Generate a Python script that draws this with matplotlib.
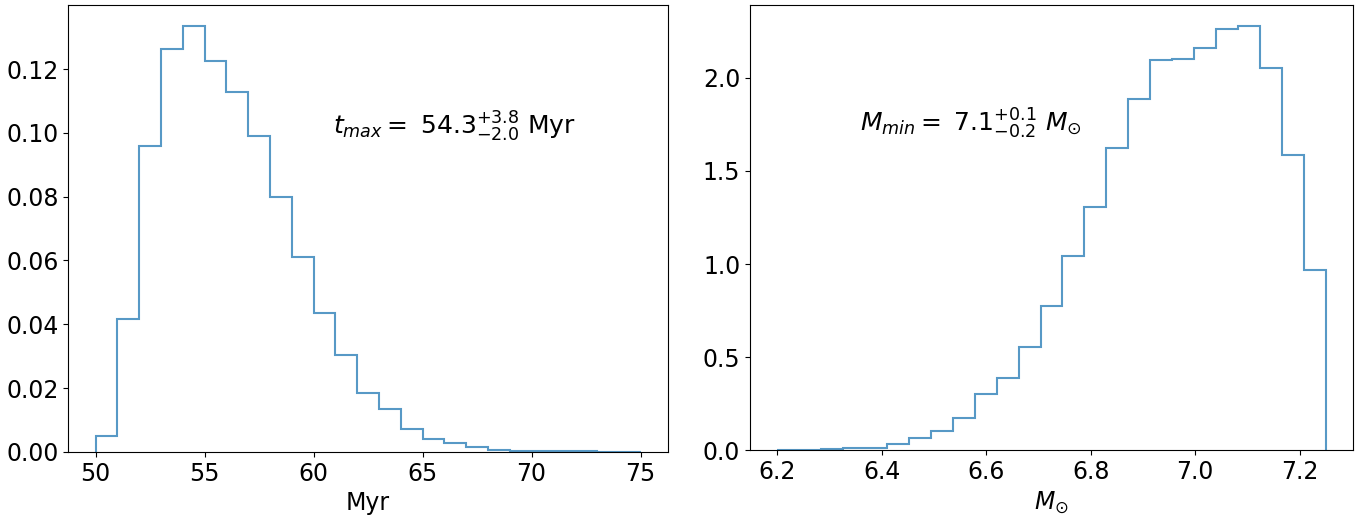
import numpy as np
import matplotlib
matplotlib.use("Agg")
import matplotlib.pyplot as plt

# Left panel: t_max histogram (density), bins of 1 Myr from 50 to 75
t_edges = np.arange(50, 76, 1)
t_vals = [0.0051, 0.0418, 0.0960, 0.1262, 0.1335, 0.1226, 0.1127, 0.0991,
          0.0800, 0.0612, 0.0434, 0.0303, 0.0186, 0.0134, 0.0071, 0.0039,
          0.0027, 0.0016, 0.0006, 0.0004, 0.0003, 0.0002, 0.0002, 0.0001, 0.0001]

# Right panel: M_min histogram (density), 25 bins from 6.2 to 7.25
m_edges = np.linspace(6.2, 7.25, 26)
m_vals = [0.003, 0.003, 0.007, 0.014, 0.015, 0.036, 0.064, 0.105, 0.171,
          0.304, 0.386, 0.554, 0.775, 1.045, 1.305, 1.621, 1.889, 2.095,
          2.100, 2.161, 2.264, 2.279, 2.052, 1.584, 0.970]

t_label = r"$t_{max}=$ $54.3^{+3.8}_{-2.0}$ Myr"
m_label = r"$M_{min}=$ $7.1^{+0.1}_{-0.2}$ $M_{\odot}$"

plt.rcParams['font.size'] = 17

fig = plt.figure(figsize=(13.67, 5.23), dpi=100)
ax1 = fig.add_axes([0.050, 0.136, 0.4385, 0.855])
ax2 = fig.add_axes([0.5486, 0.139, 0.4412, 0.852])

ax1.hist(t_edges[:-1], bins=t_edges, weights=t_vals, histtype='step',
         color='C0', alpha=0.75, linewidth=1.5)
ax1.set_xlabel("Myr")
ax1.set_xticks([50, 55, 60, 65, 70, 75])
ax1.set_yticks([0.0, 0.02, 0.04, 0.06, 0.08, 0.10, 0.12])
ax1.text(60.9, 0.0995, t_label, fontsize=18)

ax2.hist(m_edges[:-1], bins=m_edges, weights=m_vals, histtype='step',
         color='C0', alpha=0.75, linewidth=1.5)
ax2.set_xlabel(r"$M_{\odot}$")
ax2.set_xticks([6.2, 6.4, 6.6, 6.8, 7.0, 7.2])
ax2.set_yticks([0.0, 0.5, 1.0, 1.5, 2.0])
ax2.text(6.359, 1.71, m_label, fontsize=18)

fig.savefig("out.png", dpi=100)
